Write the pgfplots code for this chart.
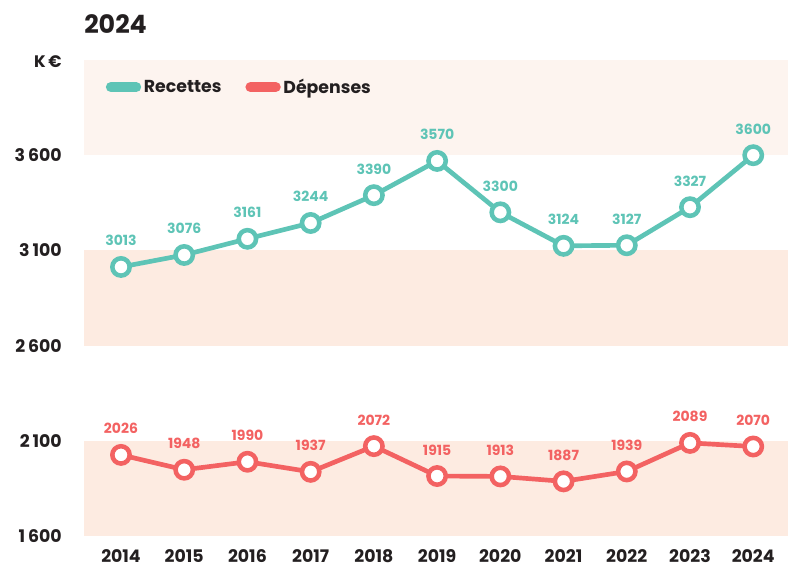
\documentclass[border=0pt]{standalone}
\usepackage{fontspec}
\setmainfont{Poppins}
\usepackage{pgfplots}
\pgfplotsset{compat=1.18}
\definecolor{teal}{HTML}{5EC4B6}
\definecolor{coral}{HTML}{F36262}
\definecolor{bandA}{HTML}{FDEBE1}
\definecolor{bandB}{HTML}{FDF4EF}
\definecolor{txt}{HTML}{231F20}
\def\px{0.75pt}
\begin{document}
\begin{tikzpicture}
\path[use as bounding box] (0,0) rectangle (788*\px,569*\px);
\begin{axis}[
  at={(84*\px,33*\px)}, anchor=south west,
  scale only axis, width=704*\px, height=476*\px,
  xmin=2013.415, xmax=2024.55, ymin=1600, ymax=4100,
  axis line style={draw=none}, major tick length=0pt,
  clip=false,
  xtick={2014,...,2024},
  xticklabel style={anchor=north, inner sep=0pt, yshift=-10pt, font=\fontsize{13}{14}\selectfont\bfseries, text=txt},
  xticklabel={\pgfmathprintnumber[1000 sep={}]{\tick}},
  ytick={1600,2100,2600,3100,3600},
  yticklabels={1\,600,2\,100,2\,600,3\,100,3\,600},
  yticklabel style={anchor=east, inner sep=0pt, xshift=-16.5pt, font=\fontsize{13}{14}\selectfont\bfseries, text=txt},
  /pgf/number format/assume math mode=true,
  legend style={at={(0.025,0.943)}, anchor=west, draw=none, fill=none, font=\fontsize{13}{14}\selectfont\bfseries, text=txt, column sep=0pt, /tikz/every even column/.append style={column sep=16pt}},
  legend columns=2,
  legend cell align=left,
  point meta=explicit symbolic,
  nodes near coords,
  every node near coord/.append style={anchor=south, inner sep=0pt, yshift=14pt, font=\fontsize{10.5}{11}\selectfont\bfseries},
]
\addplot[draw=none, fill=bandA, forget plot, nodes near coords={}] coordinates {(2013.415,1600) (2024.55,1600) (2024.55,2100) (2013.415,2100)} -- cycle;
\addplot[draw=none, fill=bandA, forget plot, nodes near coords={}] coordinates {(2013.415,2600) (2024.55,2600) (2024.55,3100) (2013.415,3100)} -- cycle;
\addplot[draw=none, fill=bandB, forget plot, nodes near coords={}] coordinates {(2013.415,3600) (2024.55,3600) (2024.55,4100) (2013.415,4100)} -- cycle;
\addplot[teal, line width=3.5pt, mark=*, mark size=6.5pt, mark options={fill=white, draw=teal, line width=3.4pt},
  every node near coord/.append style={text=teal},
  legend image code/.code={\draw[teal, line width=7.5pt, line cap=round] (0pt,0pt) -- (19pt,0pt);}]
  coordinates {(2014,3013)[3013] (2015,3076)[3076] (2016,3161)[3161] (2017,3244)[3244] (2018,3390)[3390] (2019,3570)[3570] (2020,3300)[3300] (2021,3124)[3124] (2022,3127)[3127] (2023,3327)[3327] (2024,3600)[3600]};
\addlegendentry{Recettes}
\addplot[coral, line width=3.5pt, mark=*, mark size=6.5pt, mark options={fill=white, draw=coral, line width=3.4pt},
  every node near coord/.append style={text=coral},
  legend image code/.code={\draw[coral, line width=7.5pt, line cap=round] (0pt,0pt) -- (19pt,0pt);}]
  coordinates {(2014,2026)[2026] (2015,1948)[1948] (2016,1990)[1990] (2017,1937)[1937] (2018,2072)[2072] (2019,1915)[1915] (2020,1913)[1913] (2021,1887)[1887] (2022,1939)[1939] (2023,2089)[2089] (2024,2070)[2070]};
\addlegendentry{Dépenses}
\end{axis}
\node[anchor=west, inner sep=0pt, text=txt, font=\fontsize{19}{22}\selectfont\bfseries] at (84*\px,545*\px) {2024};
\node[anchor=east, inner sep=0pt, text=txt, font=\fontsize{12.5}{14}\selectfont\bfseries] at (62*\px,507*\px) {K\,€};
\end{tikzpicture}
\end{document}
